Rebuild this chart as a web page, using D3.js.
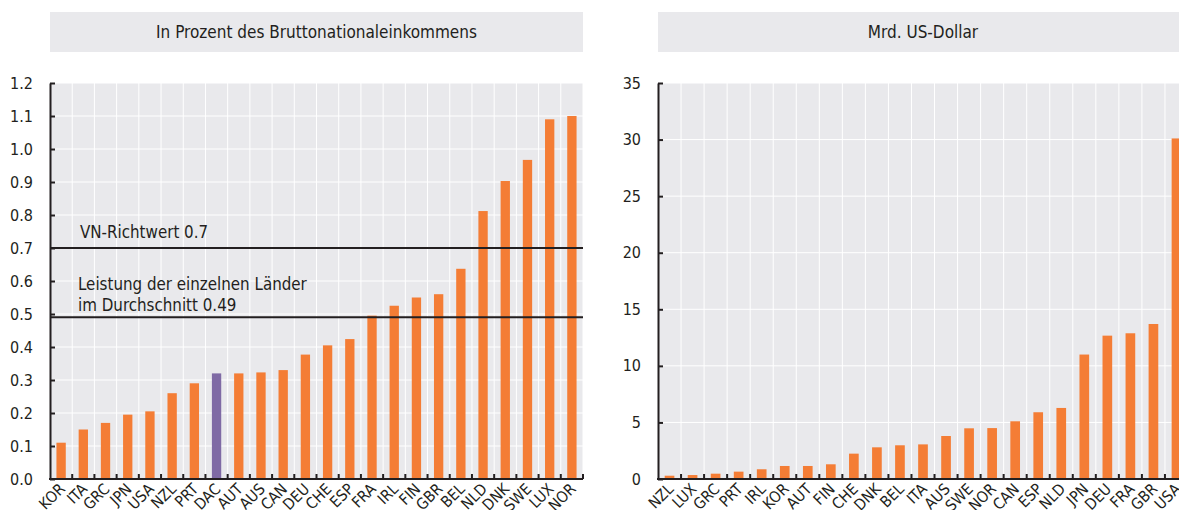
<!DOCTYPE html>
<html><head><meta charset="utf-8">
<script src="https://cdn.jsdelivr.net/npm/d3@7"></script>
<style>
body{margin:0;background:#fff;}
svg{display:block;}
text{font-family:"Liberation Sans Narrow","Arial Narrow","DejaVu Sans Condensed",sans-serif;fill:#231f20;}
</style></head><body>
<svg id="chart" width="1179" height="510"></svg>
<script>
// ---- data ----
const leftCategories = ["KOR","ITA","GRC","JPN","USA","NZL","PRT","DAC","AUT","AUS","CAN","DEU","CHE","ESP","FRA","IRL","FIN","GBR","BEL","NLD","DNK","SWE","LUX","NOR"];
const leftValues = [0.11,0.15,0.17,0.195,0.205,0.26,0.29,0.32,0.32,0.323,0.33,0.377,0.405,0.424,0.495,0.525,0.55,0.56,0.637,0.812,0.903,0.967,1.09,1.10];
const leftHighlight = ["DAC"];
const leftTicks = [0,0.1,0.2,0.3,0.4,0.5,0.6,0.7,0.8,0.9,1.0,1.1,1.2];
const refValues = [0.7, 0.49];
const refLabels = [["VN-Richtwert 0.7"], ["Leistung der einzelnen Länder","im Durchschnitt 0.49"]];

const rightCategories = ["NZL","LUX","GRC","PRT","IRL","KOR","AUT","FIN","CHE","DNK","BEL","ITA","AUS","SWE","NOR","CAN","ESP","NLD","JPN","DEU","FRA","GBR","USA"];
const rightValues = [0.29,0.35,0.47,0.65,0.86,1.15,1.15,1.3,2.24,2.8,2.98,3.06,3.8,4.48,4.5,5.1,5.9,6.28,11.0,12.67,12.88,13.7,30.1];
const rightTicks = [0,5,10,15,20,25,30,35];

const titles = ["In Prozent des Bruttonationaleinkommens","Mrd. US-Dollar"];

// ---- style ----
const ORANGE = "#f47d35", PURPLE = "#7f6aa5", BG = "#e9e9ec", INK = "#231f20";
const FONT = '"Liberation Sans Narrow","Arial Narrow","DejaVu Sans Condensed",sans-serif';
const svg = d3.select("#chart");

function panel(cfg){
  const g = svg.append("g");
  const x = d3.scaleBand().domain(cfg.cats).range([cfg.x0, cfg.x1]).padding(0);
  const y = d3.scaleLinear().domain([0, cfg.ticks[cfg.ticks.length-1]]).range([cfg.yb, cfg.yt]);
  const bw = x.bandwidth();

  // title box
  g.append("rect").attr("x", cfg.x0).attr("y", 12).attr("width", cfg.x1-cfg.x0).attr("height", 40).attr("fill", BG);
  g.append("text").attr("x", (cfg.x0+cfg.x1)/2).attr("y", 38).attr("text-anchor","middle")
    .attr("font-size", 17).text(cfg.title);

  // plot bg
  g.append("rect").attr("x", cfg.x0).attr("y", cfg.yt).attr("width", cfg.x1-cfg.x0).attr("height", cfg.yb-cfg.yt).attr("fill", BG);

  // gridlines
  g.selectAll(".hg").data(cfg.ticks.slice(1)).join("line")
    .attr("x1", cfg.x0).attr("x2", cfg.x1).attr("y1", d=>y(d)).attr("y2", d=>y(d))
    .attr("stroke","#fff").attr("stroke-width",1);
  const bounds = cfg.cats.map(c=>x(c)).slice(1).concat([cfg.x1]);
  g.selectAll(".vg").data(bounds).join("line")
    .attr("x1", d=>d).attr("x2", d=>d).attr("y1", cfg.yt).attr("y2", cfg.yb)
    .attr("stroke","#fff").attr("stroke-width",1);

  // bars
  const barW = bw*0.42;
  g.selectAll(".bar").data(cfg.cats.map((c,i)=>({c, v: cfg.vals[i]}))).join("rect")
    .attr("x", d=>x(d.c)+(bw-barW)/2).attr("width", barW)
    .attr("y", d=>y(d.v)).attr("height", d=>y(0)-y(d.v))
    .attr("fill", d=>cfg.highlight.includes(d.c)?PURPLE:ORANGE);

  // reference lines
  if (cfg.refs){
    cfg.refs.forEach((v,i)=>{
      g.append("line").attr("x1", cfg.x0).attr("x2", cfg.x1).attr("y1", y(v)).attr("y2", y(v))
        .attr("stroke", INK).attr("stroke-width", 2);
      const lines = cfg.refLabels[i];
      const t = g.append("text").attr("font-size", 16.8);
      lines.forEach((s,j)=>{
        t.append("tspan").attr("x", i===0?80:78)
          .attr("y", y(v) - (i===0?10:6) - (lines.length-1-j)*21).text(s);
      });
    });
  }

  // y axis
  const ya = d3.axisLeft(y).tickValues(cfg.ticks).tickFormat(cfg.fmt).tickSizeInner(-5).tickSizeOuter(0).tickPadding(17);
  const yg = g.append("g").attr("transform", `translate(${cfg.x0},0)`).call(ya);
  yg.select(".domain").attr("stroke", INK).attr("stroke-width", 2);
  yg.selectAll(".tick line").attr("stroke", INK).attr("stroke-width", 2);
  yg.selectAll(".tick text").attr("font-size", 16).attr("fill", INK).style("font-family", FONT);

  // x axis
  g.append("line").attr("x1", cfg.x0-1).attr("x2", cfg.x1).attr("y1", cfg.yb).attr("y2", cfg.yb)
    .attr("stroke", INK).attr("stroke-width", 2);
  g.selectAll(".xt").data(bounds).join("line")
    .attr("x1", d=>d).attr("x2", d=>d).attr("y1", cfg.yb).attr("y2", cfg.yb-5)
    .attr("stroke", INK).attr("stroke-width", 2);
  g.selectAll(".xl").data(cfg.cats).join("text")
    .attr("text-anchor","end").attr("font-size", 15.5)
    .attr("transform", d=>`translate(${x(d)+bw/2+5},${cfg.yb+11}) rotate(-45)`)
    .text(d=>d);
}

panel({x0:50, x1:583, yt:83, yb:479, cats:leftCategories, vals:leftValues, highlight:leftHighlight,
  ticks:leftTicks, fmt:d3.format(".1f"), title:titles[0], refs:refValues, refLabels:refLabels});
panel({x0:658, x1:1188, yt:83, yb:479, cats:rightCategories, vals:rightValues, highlight:[],
  ticks:rightTicks, fmt:d3.format("d"), title:titles[1]});
</script>
</body></html>
